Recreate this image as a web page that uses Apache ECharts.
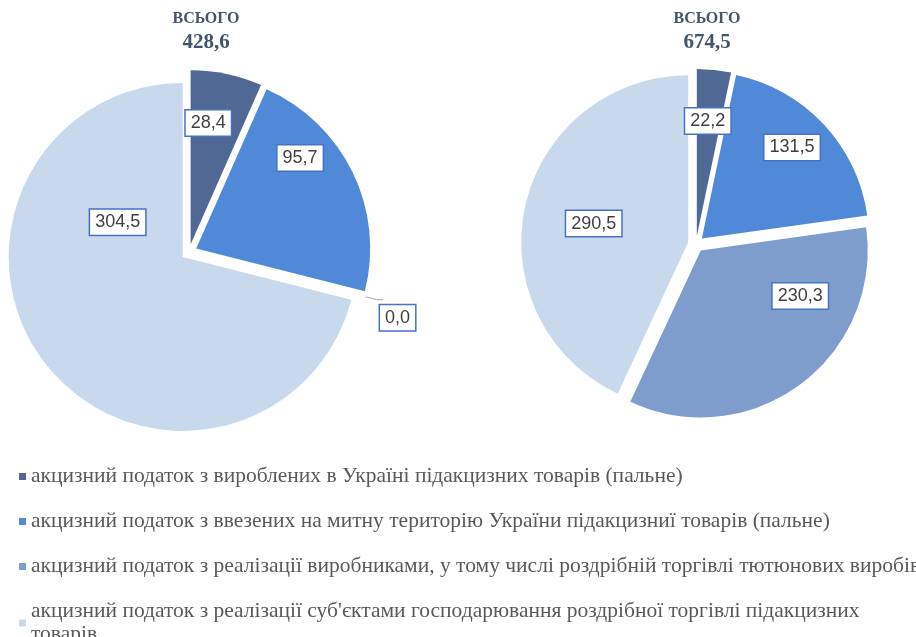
<!DOCTYPE html>
<html>
<head>
<meta charset="utf-8" />
<script src="https://cdn.jsdelivr.net/npm/echarts@6/dist/echarts.min.js"></script>
</head>
<body style="margin:0">
<div id="main" style="width: 916px;height: 637px;"></div>
<script type="text/javascript">
// категорії акцизного податку
var categories = [
    'акцизний податок з вироблених в Україні підакцизних товарів (пальне)',
    'акцизний податок з ввезених на митну територію України підакцизниї товарів (пальне)',
    'акцизний податок з реалізації виробниками, у тому числі роздрібній торгівлі тютюнових виробів',
    "акцизний податок з реалізації суб'єктами господарювання роздрібної торгівлі підакцизних товарів"
];
var valuesLeft = [28.4, 95.7, 0.0, 304.5];
var valuesRight = [22.2, 131.5, 230.3, 290.5];
var colors = ['#4f6894', '#5089d8', '#7e9dcd', '#c9d9ed'];

// зсув підписів, як їх розставлено вручну в оригіналі
var labelShift = [
    [[-1, -33], [23, -51], [-8, 18], [6, -90]],
    [[2, -29], [27, -32], [48, -24], [-10, 0]]
];

function fmt(v) {
    return v.toFixed(1).replace('.', ',');
}
function sum(arr) {
    return arr.reduce(function (a, b) { return a + b; }, 0);
}

function pieData(values) {
    return values.map(function (v, i) {
        var item = { name: categories[i], value: v, selected: true };
        if (v === 0) {
            item.label = { position: 'outside' };
            item.labelLine = { show: true, length: 12, length2: 6, lineStyle: { color: '#a6a6a6' } };
        }
        return item;
    });
}

var labelStyle = {
    show: true,
    position: 'inside',
    formatter: function (p) { return fmt(p.value); },
    fontFamily: 'Liberation Sans',
    fontSize: 18,
    color: '#404040',
    backgroundColor: '#fff',
    borderColor: '#4472c4',
    borderWidth: 1.5,
    padding: [4, 5, 3, 5]
};

function pieSeries(values, center, radius) {
    return {
        type: 'pie',
        center: center,
        radius: radius,
        startAngle: 90,
        clockwise: true,
        selectedMode: 'multiple',
        selectedOffset: 8,
        avoidLabelOverlap: false,
        label: labelStyle,
        labelLine: { show: false },
        labelLayout: function (p) {
            var s = labelShift[p.seriesIndex][p.dataIndex];
            return { dx: s[0], dy: s[1] };
        },
        itemStyle: { borderWidth: 0 },
        emphasis: { disabled: true },
        data: pieData(values)
    };
}

function totalTitle(values, x) {
    return [
        {
            type: 'text', x: x, y: 11,
            style: { text: 'ВСЬОГО', textAlign: 'center', textVerticalAlign: 'top', font: 'bold 16px "Liberation Serif"', fill: '#44546a' }
        },
        {
            type: 'text', x: x, y: 32,
            style: { text: fmt(sum(values)), textAlign: 'center', textVerticalAlign: 'top', font: 'bold 21px "Liberation Serif"', fill: '#44546a' }
        }
    ];
}

var chartDom = document.getElementById('main');
var myChart = echarts.init(chartDom);
var option = {
    animation: false,
    color: colors,
    graphic: totalTitle(valuesLeft, 206).concat(totalTitle(valuesRight, 707)),
    legend: {
        orient: 'vertical',
        left: 19,
        top: 465,
        height: 200,
        padding: 0,
        icon: 'rect',
        itemWidth: 7,
        itemHeight: 7,
        itemGap: 22,
        selectedMode: false,
        formatter: function (name) {
            // останній пункт в оригіналі переноситься на другий рядок
            return name === categories[3] ? name.replace(/ (\S+)$/, '\n$1') : name;
        },
        textStyle: {
            fontFamily: 'Liberation Serif',
            fontSize: 21.5,
            color: '#595959',
            lineHeight: 23
        },
        data: categories
    },
    series: [
        pieSeries(valuesLeft, [189, 252], 174),
        pieSeries(valuesRight, [696, 244], 167)
    ]
};
myChart.setOption(option);
</script>
</body>
</html>
